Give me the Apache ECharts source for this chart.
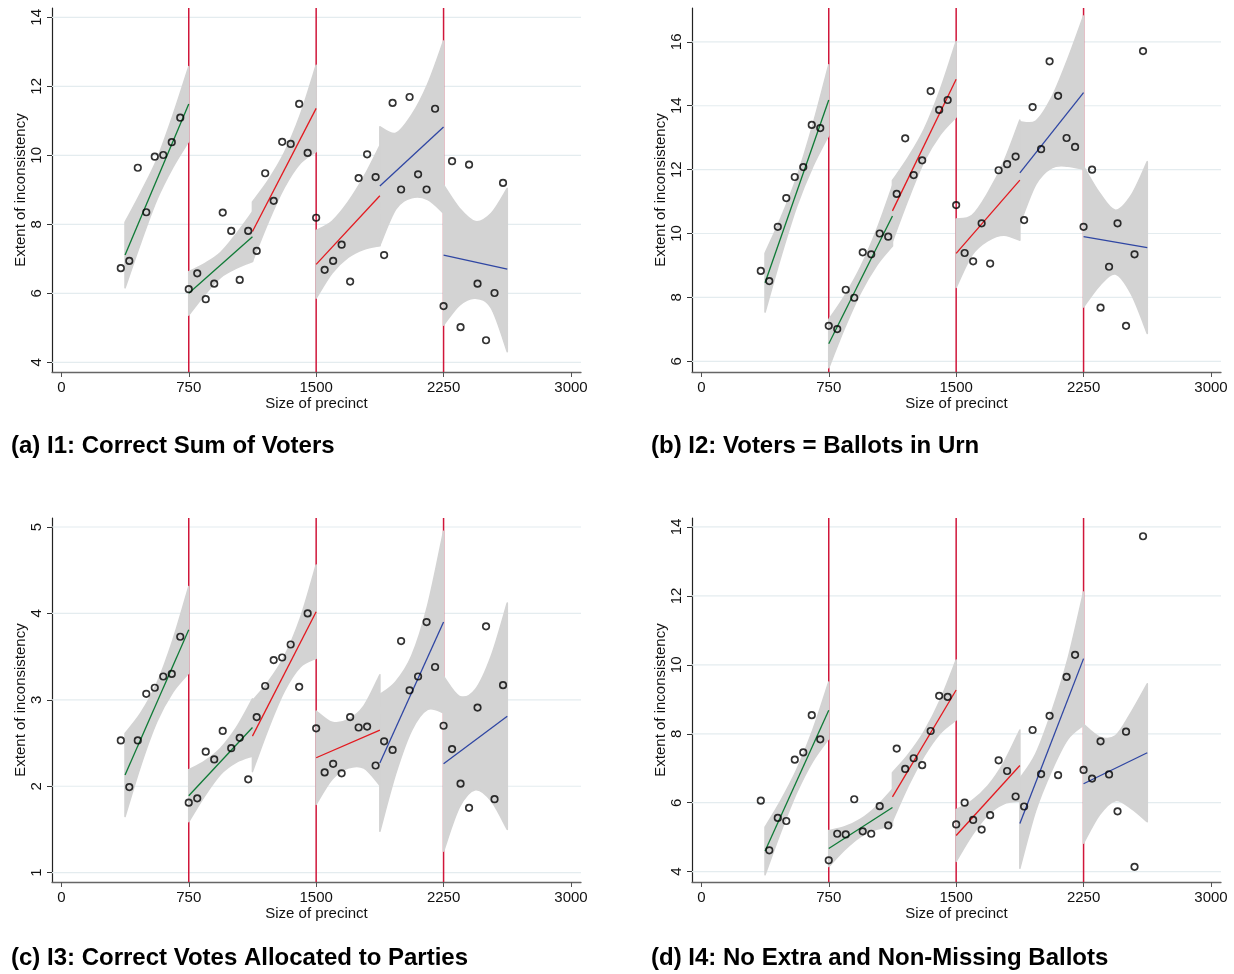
<!DOCTYPE html>
<html>
<head>
<meta charset="utf-8">
<title>Extent of inconsistency by size of precinct</title>
<script src="https://cdn.jsdelivr.net/npm/echarts@6/dist/echarts.min.js"></script>
<style>
  html, body { margin: 0; padding: 0; background: #fff; }
  #chart { width: 1234px; height: 974px; }
</style>
</head>
<body>
<div id="chart"></div>
<script>
// precinct size bins (x of every dot)
const binX = [350, 400, 450, 500, 550, 600, 650, 700, 750, 800, 850, 900, 950, 1000, 1050, 1100,
  1150, 1200, 1250, 1300, 1350, 1400, 1450, 1500, 1550, 1600, 1650, 1700, 1750, 1800, 1850, 1900,
  1950, 2000, 2050, 2100, 2150, 2200, 2250, 2300, 2350, 2400, 2450, 2500, 2550, 2600];
const xTicks = [0, 750, 1500, 2250, 3000];
const cutoffs = [750, 1500, 2250];
// fit segments: start/end of each local linear fit
const segStart = [375, 750, 1125, 1500, 1875, 2250];
const segEnd = [750, 1125, 1500, 1875, 2250, 2625];
const segColors = ['#0f7a36', '#0f7a36', '#e3191f', '#e3191f', '#2f46a3', '#2f46a3'];
// where the CI band edges were read, offset from segment start
const bandOffsets = [0, 93.75, 187.5, 281.25, 375];

// (a) I1
const aPoints = [6.73, 6.94, 9.64, 8.35, 9.96, 10.01, 10.38, 11.09, 6.12, 6.58, 5.83, 6.28, 8.34, 7.81, 6.39, 7.81,
  7.23, 9.48, 8.68, 10.39, 10.33, 11.49, 10.07, 8.19, 6.68, 6.94, 7.41, 6.34, 9.34, 10.03, 9.37, 7.11,
  11.52, 9.01, 11.69, 9.45, 9.01, 11.35, 5.63, 9.83, 5.02, 9.73, 6.28, 4.64, 6.01, 9.20];
const aFit = [[7.11, 11.49], [6.00, 7.64], [7.79, 11.36], [6.84, 8.83], [9.11, 10.82], [7.11, 6.70]];
const aBandLo = [
  [6.16, 7.49, 8.72, 9.65, 10.41], [5.37, 5.96, 6.46, 6.73, 6.92], [6.93, 8.08, 9.07, 9.77, 10.11],
  [5.86, 6.59, 7.04, 7.28, 7.38], [7.39, 8.44, 8.77, 8.72, 8.33], [5.08, 5.66, 5.86, 5.57, 4.31]];
const aBandHi = [
  [8.06, 8.93, 9.88, 11.15, 12.57], [6.63, 6.86, 7.18, 7.73, 8.36], [8.65, 9.28, 10.07, 11.17, 12.61],
  [7.82, 8.09, 8.64, 9.38, 10.28], [10.83, 10.64, 11.17, 12.06, 13.31], [9.14, 8.46, 8.08, 8.32, 9.04]];
const aYTicks = [4, 6, 8, 10, 12, 14];

// (b) I2
const bPoints = [8.83, 8.51, 10.21, 11.11, 11.77, 12.08, 13.40, 13.30, 7.11, 7.01, 8.24, 7.99, 9.41, 9.35, 10.00, 9.90,
  11.24, 12.98, 11.83, 12.29, 14.46, 13.87, 14.18, 10.89, 9.39, 9.13, 10.32, 9.06, 11.98, 12.17, 12.41, 10.42,
  13.96, 12.64, 15.39, 14.31, 12.99, 12.71, 10.21, 12.00, 7.68, 8.96, 10.32, 7.11, 9.35, 15.71];
const bFit = [[8.46, 14.18], [6.55, 10.55], [10.71, 14.83], [9.38, 11.67], [11.90, 14.41], [9.90, 9.56]];
const bBandLo = [
  [7.54, 9.29, 10.87, 12.10, 13.08], [5.80, 7.05, 8.15, 9.00, 9.61], [9.76, 11.09, 12.27, 13.10, 13.65],
  [8.31, 9.33, 9.78, 9.95, 9.79], [10.30, 11.54, 12.06, 12.11, 12.01], [7.70, 8.37, 8.73, 8.10, 6.87]];
const bBandHi = [
  [9.38, 10.49, 11.77, 13.40, 15.28], [7.30, 8.05, 8.95, 10.10, 11.49], [11.66, 12.39, 13.27, 14.50, 16.01],
  [10.45, 10.57, 11.28, 12.25, 13.55], [13.50, 13.52, 14.26, 15.45, 16.81], [12.10, 11.27, 10.73, 11.20, 12.25]];
const bYTicks = [6, 8, 10, 12, 14, 16];

// (c) I3
const cPoints = [2.53, 1.99, 2.53, 3.07, 3.14, 3.27, 3.30, 3.73, 1.81, 1.86, 2.40, 2.31, 2.64, 2.44, 2.56, 2.08,
  2.80, 3.16, 3.46, 3.49, 3.64, 3.15, 4.00, 2.67, 2.16, 2.26, 2.15, 2.80, 2.68, 2.69, 2.24, 2.52,
  2.42, 3.68, 3.11, 3.27, 3.90, 3.38, 2.70, 2.43, 2.03, 1.75, 2.91, 3.85, 1.85, 3.17];
const cFit = [[2.13, 3.81], [1.89, 2.68], [2.58, 4.02], [2.33, 2.65], [2.27, 3.90], [2.26, 2.81]];
const cBandLo = [
  [1.65, 2.25, 2.75, 3.09, 3.31], [1.59, 1.89, 2.14, 2.28, 2.35], [2.17, 2.67, 3.10, 3.38, 3.48],
  [1.79, 2.08, 2.21, 2.21, 2.01], [1.48, 2.15, 2.65, 2.89, 2.85], [1.25, 1.76, 1.96, 1.83, 1.50]];
const cBandHi = [
  [2.61, 2.85, 3.19, 3.69, 4.31], [2.19, 2.29, 2.44, 2.68, 3.01], [2.99, 3.21, 3.50, 3.94, 4.56],
  [2.87, 2.74, 2.77, 2.93, 3.29], [3.06, 3.21, 3.51, 4.09, 4.95], [3.27, 3.04, 3.12, 3.51, 4.12]];
const cYTicks = [1, 2, 3, 4, 5];

// (d) I4
const dPoints = [6.06, 4.62, 5.56, 5.47, 7.25, 7.46, 8.54, 7.84, 4.33, 5.10, 5.08, 6.10, 5.17, 5.10, 5.90, 5.34,
  7.57, 6.98, 7.29, 7.09, 8.08, 9.10, 9.07, 5.37, 6.00, 5.50, 5.22, 5.64, 7.23, 6.92, 6.18, 5.89,
  8.11, 6.83, 8.52, 6.80, 9.65, 10.29, 6.95, 6.70, 7.78, 6.82, 5.75, 8.06, 4.14, 13.73];
const dFit = [[4.60, 8.68], [4.67, 5.86], [6.17, 9.27], [5.05, 7.08], [5.40, 10.18], [6.55, 7.45]];
const dBandLo = [
  [3.91, 5.17, 6.31, 7.21, 7.86], [4.15, 4.64, 5.02, 5.23, 5.33], [5.47, 6.50, 7.37, 8.02, 8.40],
  [4.30, 5.06, 5.65, 5.97, 6.05], [4.10, 5.78, 6.94, 7.84, 8.25], [4.83, 5.65, 6.06, 5.83, 5.45]];
const dBandHi = [
  [5.29, 6.07, 6.97, 8.11, 9.50], [5.19, 5.30, 5.52, 5.89, 6.39], [6.87, 7.40, 8.07, 8.98, 10.14],
  [5.80, 6.06, 6.49, 7.17, 8.11], [6.70, 7.42, 8.64, 10.14, 12.11], [8.27, 7.91, 7.94, 8.63, 9.45]];
const dYTicks = [4, 6, 8, 10, 12, 14];

const panels = [
  { title: '(a) I1: Correct Sum of Voters', points: aPoints, fit: aFit, lo: aBandLo, hi: aBandHi, yTicks: aYTicks,
    yMin: 3.72, yMax: 14.27, left: 52, top: 8, titleLeft: 11, titleTop: 434 },
  { title: '(b) I2: Voters = Ballots in Urn', points: bPoints, fit: bFit, lo: bBandLo, hi: bBandHi, yTicks: bYTicks,
    yMin: 5.665, yMax: 17.06, left: 692, top: 8, titleLeft: 651, titleTop: 434 },
  { title: '(c) I3: Correct Votes Allocated to Parties', points: cPoints, fit: cFit, lo: cBandLo, hi: cBandHi, yTicks: cYTicks,
    yMin: 0.892, yMax: 5.104, left: 52, top: 518, titleLeft: 11, titleTop: 946 },
  { title: '(d) I4: No Extra and Non-Missing Ballots', points: dPoints, fit: dFit, lo: dBandLo, hi: dBandHi, yTicks: dYTicks,
    yMin: 3.70, yMax: 14.26, left: 692, top: 518, titleLeft: 651, titleTop: 946 }
];

const xMin = -55, xMax = 3059;
const fontFamily = '"Liberation Sans", Arial, Helvetica, sans-serif';
const bandGrey = '#d3d3d3';

// smooth curve (cardinal spline) through pixel points, as svg path commands
function curveThrough(pts) {
  let d = '';
  for (let k = 0; k < pts.length - 1; k++) {
    const p0 = pts[Math.max(k - 1, 0)], p1 = pts[k], p2 = pts[k + 1], p3 = pts[Math.min(k + 2, pts.length - 1)];
    const c1 = [p1[0] + (p2[0] - p0[0]) / 6, p1[1] + (p2[1] - p0[1]) / 6];
    const c2 = [p2[0] - (p3[0] - p1[0]) / 6, p2[1] - (p3[1] - p1[1]) / 6];
    d += ' C' + c1[0] + ',' + c1[1] + ' ' + c2[0] + ',' + c2[1] + ' ' + p2[0] + ',' + p2[1];
  }
  return d;
}

const chart = echarts.init(document.getElementById('chart'), null, { renderer: 'canvas' });

const grid = [], xAxis = [], yAxis = [], series = [], title = [];

panels.forEach((p, i) => {
  grid.push({ left: p.left, top: p.top, width: 529, height: 364, containLabel: false, outerBoundsMode: 'none' });
  title.push({
    text: p.title, left: p.titleLeft, top: p.titleTop, padding: 0,
    textStyle: { fontSize: 24, fontWeight: 'bold', color: '#000', fontFamily }
  });
  xAxis.push({
    gridIndex: i, type: 'value', min: xMin, max: xMax,
    name: 'Size of precinct', nameLocation: 'middle', nameGap: 24,
    nameTextStyle: { fontSize: 15, color: '#111', fontFamily },
    axisLine: { show: true, onZero: false, lineStyle: { color: '#666', width: 1.3 } },
    axisTick: { show: true, customValues: xTicks, length: 5, lineStyle: { color: '#555' } },
    axisLabel: { customValues: xTicks, fontSize: 15, color: '#111', margin: 8, fontFamily, formatter: v => String(v) },
    splitLine: { show: false }
  });
  yAxis.push({
    gridIndex: i, type: 'value', min: p.yMin, max: p.yMax,
    name: 'Extent of inconsistency', nameLocation: 'middle', nameGap: 24,
    nameTextStyle: { fontSize: 15, color: '#111', fontFamily },
    axisLine: { show: true, onZero: false, lineStyle: { color: '#222', width: 1.2 } },
    axisTick: { show: true, customValues: p.yTicks, length: 5, lineStyle: { color: '#333' } },
    axisLabel: { customValues: p.yTicks, rotate: 90, fontSize: 15, color: '#111', margin: 8, fontFamily, formatter: v => String(v) },
    splitLine: { show: false }
  });

  // horizontal grid lines at the y ticks (under everything)
  p.yTicks.forEach(v => {
    series.push({
      type: 'line', xAxisIndex: i, yAxisIndex: i, symbol: 'none', silent: true, z: 0,
      lineStyle: { color: '#e4ecef', width: 1.2 },
      data: [[xMin, v], [xMax, v]]
    });
  });
  // cut-off lines, hidden by the bands where they cross them
  cutoffs.forEach(v => {
    series.push({
      type: 'line', xAxisIndex: i, yAxisIndex: i, symbol: 'none', silent: true, z: 0,
      lineStyle: { color: '#d0163a', width: 1.5 },
      data: [[v, p.yMin], [v, p.yMax]]
    });
  });

  // confidence bands, one filled shape per fit segment (outlined in the same grey, as Stata does)
  series.push({
    type: 'custom', xAxisIndex: i, yAxisIndex: i, silent: true, z: 2,
    data: segStart.map((x, s) => [x, p.fit[s][0]]),
    renderItem: (params, api) => {
      const s = params.dataIndex;
      const up = bandOffsets.map((o, k) => api.coord([segStart[s] + o, p.hi[s][k]]));
      const dn = bandOffsets.map((o, k) => api.coord([segStart[s] + o, p.lo[s][k]])).reverse();
      const pathData = 'M' + up[0][0] + ',' + up[0][1] + curveThrough(up) +
        ' L' + dn[0][0] + ',' + dn[0][1] + curveThrough(dn) + ' Z';
      return {
        type: 'path', shape: { pathData },
        style: { fill: bandGrey, stroke: bandGrey, lineWidth: 1.6, lineJoin: 'round' }
      };
    }
  });

  // fitted lines
  p.fit.forEach((f, s) => {
    series.push({
      type: 'line', xAxisIndex: i, yAxisIndex: i, symbol: 'none', silent: true, z: 3,
      lineStyle: { color: segColors[s], width: 1.3 },
      data: [[segStart[s], f[0]], [segEnd[s], f[1]]]
    });
  });

  // dots
  series.push({
    type: 'scatter', xAxisIndex: i, yAxisIndex: i, z: 4,
    symbol: 'circle', symbolSize: 6.5,
    itemStyle: { color: 'rgba(255,255,255,0)', borderColor: '#000', borderWidth: 1.7 },
    data: binX.map((x, k) => [x, p.points[k]])
  });
});

chart.setOption({
  backgroundColor: '#fff',
  animation: false,
  title, grid, xAxis, yAxis, series
});
</script>
</body>
</html>
